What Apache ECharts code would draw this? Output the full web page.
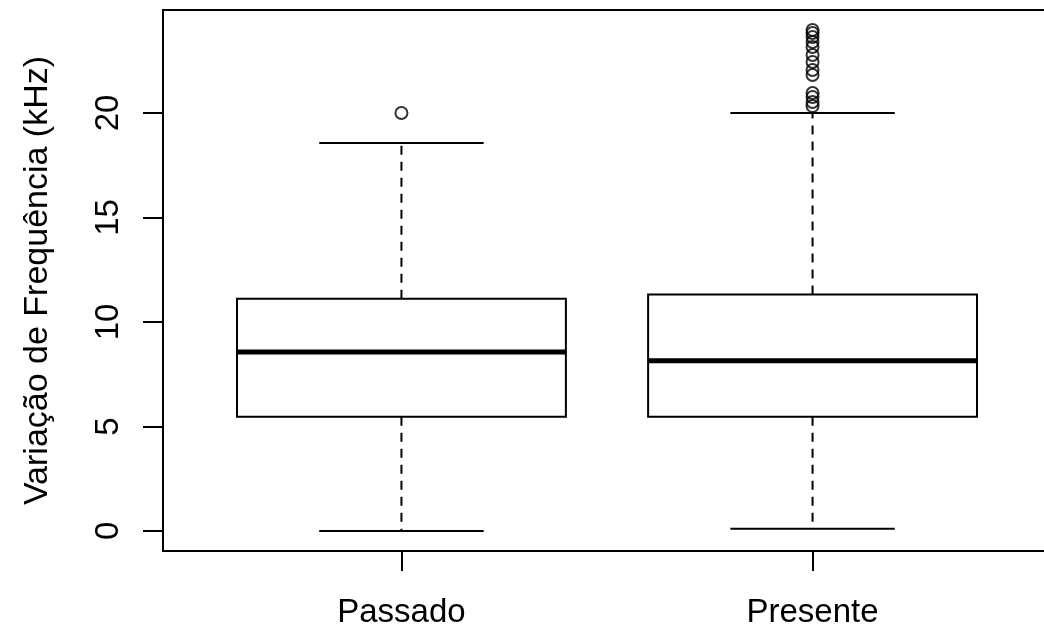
<!DOCTYPE html>
<html>
<head>
<meta charset="utf-8">
<script src="https://cdn.jsdelivr.net/npm/echarts@6/dist/echarts.min.js"></script>
<style>html,body{margin:0;padding:0;background:#fff;}#c{width:1044px;height:630px;}</style>
</head>
<body>
<div id="c"></div>
<script>
const categories = ['Passado', 'Presente'];
const whiskerLow = [0.0, 0.1];
const q1 = [5.47, 5.47];
const median = [8.56, 8.15];
const q3 = [11.11, 11.31];
const whiskerHigh = [18.56, 20.0];
const outliersPassado = [20.0];
const outliersPresente = [23.97, 23.83, 23.64, 23.4, 23.16, 22.78, 22.44, 22.06, 21.82, 20.96, 20.77, 20.53, 20.33];
const yTicks = [0, 5, 10, 15, 20];
const xTicks = [1, 2];

const boxData = categories.map((c, i) => [i + 1, whiskerLow[i], q1[i], median[i], q3[i], whiskerHigh[i]]);
const outlierData = [];
outliersPassado.forEach(v => outlierData.push([1, v]));
outliersPresente.forEach(v => outlierData.push([2, v]));

const FONT = "'Liberation Sans', Arial, sans-serif";
const FS = 33;

const chart = echarts.init(document.getElementById('c'), null, {renderer: 'canvas'});
chart.setOption({
  backgroundColor: '#fff',
  animation: false,
  grid: {left: 163, top: 10, right: -7, bottom: 79, containLabel: false, outerBoundsMode: 'none', show: true, borderColor: '#000', borderWidth: 2, backgroundColor: 'transparent'},
  xAxis: {
    type: 'value', min: 0.42, max: 2.58,
    axisLine: {show: false, onZero: false},
    splitLine: {show: false},
    axisTick: {show: true, customValues: xTicks, length: 20, lineStyle: {color: '#000', width: 2}},
    axisLabel: {customValues: xTicks, formatter: v => categories[Math.round(v) - 1] || '', color: '#000', fontFamily: FONT, fontSize: FS, margin: 45}
  },
  yAxis: {
    type: 'value', min: -0.96, max: 24.93,
    name: 'Variação de Frequência (kHz)', nameLocation: 'middle', nameRotate: 90, nameGap: 108,
    nameTextStyle: {color: '#000', fontFamily: FONT, fontSize: 34},
    axisLine: {show: false, onZero: false},
    splitLine: {show: false},
    axisTick: {show: true, customValues: yTicks, length: 20, lineStyle: {color: '#000', width: 2}},
    axisLabel: {customValues: yTicks, rotate: 90, color: '#000', fontFamily: FONT, fontSize: FS, margin: 38}
  },
  series: [
    {
      type: 'custom',
      data: boxData,
      renderItem: function (params, api) {
        const x = api.value(0);
        const lo = api.value(1), a = api.value(2), m = api.value(3), b = api.value(4), hi = api.value(5);
        const hw = 0.4, cw = 0.2;
        const pLT = api.coord([x - hw, b]);
        const pRB = api.coord([x + hw, a]);
        const line = (x1, y1, x2, y2, style) => ({type: 'line', shape: {x1, y1, x2, y2}, style: Object.assign({stroke: '#000', lineWidth: 2}, style || {})});
        const cx = api.coord([x, 0])[0];
        const yLo = api.coord([x, lo])[1], yA = api.coord([x, a])[1], yM = api.coord([x, m])[1], yB = api.coord([x, b])[1], yHi = api.coord([x, hi])[1];
        const cL = api.coord([x - cw, 0])[0], cR = api.coord([x + cw, 0])[0];
        return {
          type: 'group',
          children: [
            line(cx, yB, cx, yHi, {lineDash: [9, 7]}),
            line(cx, yA, cx, yLo, {lineDash: [9, 7]}),
            line(cL, yHi, cR, yHi),
            line(cL, yLo, cR, yLo),
            {type: 'rect', shape: {x: pLT[0], y: pLT[1], width: pRB[0] - pLT[0], height: pRB[1] - pLT[1]}, style: {fill: '#fff', stroke: '#000', lineWidth: 2}},
            line(pLT[0], yM, pRB[0], yM, {lineWidth: 5})
          ]
        };
      }
    },
    {
      type: 'scatter',
      data: outlierData,
      symbol: 'circle',
      symbolSize: 12,
      itemStyle: {color: 'transparent', borderColor: '#000', borderWidth: 2}
    }
  ]
});
</script>
</body>
</html>
